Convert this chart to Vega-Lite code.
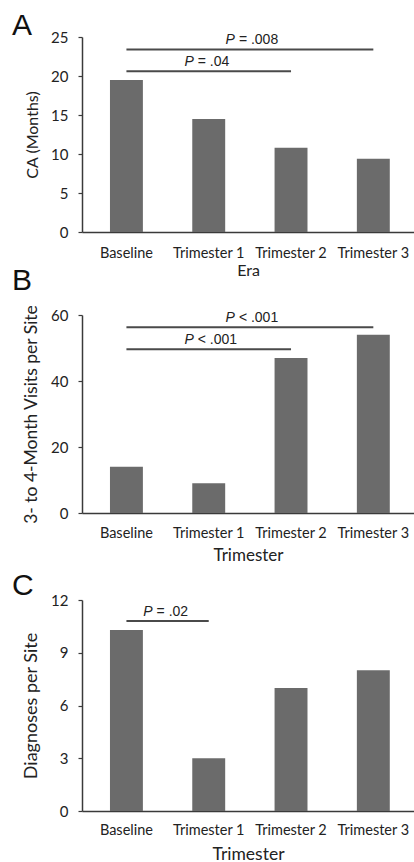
{
  "$schema": "https://vega.github.io/schema/vega-lite/v6.json",
  "padding": {"left": 12, "top": 11, "right": 0, "bottom": 0},
  "spacing": 7,
  "background": "white",
  "config": {
    "view": {"stroke": null},
    "font": "Lato",
    "axis": {"domainColor": "#3a3a3a", "domainWidth": 1.5, "labelColor": "#222", "titleColor": "#222", "labelFont": "Lato", "titleFont": "Lato", "titleFontWeight": "normal", "grid": false, "labelOverlap": false},
    "axisX": {"ticks": false, "tickSize": 0, "labelAngle": 0, "labelFontSize": 14.5, "labelPadding": 14},
    "axisY": {"tickSize": 4, "tickColor": "#3a3a3a", "tickWidth": 1.2, "labelFontSize": 15, "labelPadding": 10, "titlePadding": 10},
    "title": {"font": "Liberation Sans", "fontSize": 30, "fontWeight": "normal", "anchor": "start", "frame": "group", "dx": -70, "color": "#111", "baseline": "alphabetic"},
    "bar": {"color": "#6b6b6b"},
    "scale": {"bandPaddingInner": 0.6, "bandPaddingOuter": 0.317}
  },
  "datasets": {
    "ca": [
      {"era": "Baseline", "months": 19.5},
      {"era": "Trimester 1", "months": 14.5},
      {"era": "Trimester 2", "months": 10.8},
      {"era": "Trimester 3", "months": 9.4}
    ],
    "visits": [
      {"trimester": "Baseline", "visits": 14},
      {"trimester": "Trimester 1", "visits": 9},
      {"trimester": "Trimester 2", "visits": 47},
      {"trimester": "Trimester 3", "visits": 54}
    ],
    "diagnoses": [
      {"trimester": "Baseline", "diagnoses": 10.3},
      {"trimester": "Trimester 1", "diagnoses": 3},
      {"trimester": "Trimester 2", "diagnoses": 7},
      {"trimester": "Trimester 3", "diagnoses": 8}
    ],
    "brackets": [
      {"panel": "A", "from": "Baseline", "to": "Trimester 3", "y": 23.4, "rest": "= .008", "mid": "Trimester 1", "between": true},
      {"panel": "A", "from": "Baseline", "to": "Trimester 2", "y": 20.6, "rest": "= .04", "mid": "Trimester 1", "between": false},
      {"panel": "B", "from": "Baseline", "to": "Trimester 3", "y": 56.3, "rest": "< .001", "mid": "Trimester 1", "between": true},
      {"panel": "B", "from": "Baseline", "to": "Trimester 2", "y": 49.6, "rest": "< .001", "mid": "Trimester 1", "between": false},
      {"panel": "C", "from": "Baseline", "to": "Trimester 1", "y": 10.8, "rest": "= .02", "mid": "Baseline", "between": true}
    ]
  },
  "vconcat": [
    {
      "spacing": -13,
      "vconcat": [
        {
          "title": {"text": "A", "offset": -11},
          "width": 332,
          "height": 195,
          "layer": [
            {
              "data": {"name": "ca"},
              "mark": "bar",
              "encoding": {
                "x": {"field": "era", "type": "nominal", "scale": {"domain": ["Baseline", "Trimester 1", "Trimester 2", "Trimester 3"], "align": 0.536}, "axis": {"title": "Era", "titleFontSize": 16, "titlePadding": 3}},
                "y": {"field": "months", "type": "quantitative", "scale": {"domain": [0, 25], "nice": false}, "axis": {"title": "CA (Months)", "titleFontSize": 16, "values": [0, 5, 10, 15, 20, 25], "tickCount": 6, "labelOverlap": false, "labelSeparation": -30}}
              }
            },
            {
              "data": {"name": "brackets"},
              "transform": [{"filter": "datum.panel === 'A'"}],
              "mark": {"type": "rule", "color": "#4a4a4a", "strokeWidth": 2},
              "encoding": {"x": {"field": "from", "type": "nominal"}, "x2": {"field": "to"}, "y": {"field": "y", "type": "quantitative"}}
            },
            {
              "data": {"name": "brackets"},
              "transform": [{"filter": "datum.panel === 'A' && !datum.between"}],
              "mark": {"type": "text", "font": "Liberation Sans", "fontStyle": "italic", "fontSize": 14, "align": "right", "baseline": "alphabetic", "dx": -15, "dy": -5, "color": "#222"},
              "encoding": {"x": {"field": "mid", "type": "nominal", "bandPosition": 0.5}, "y": {"field": "y", "type": "quantitative"}, "text": {"value": "P"}}
            },
            {
              "data": {"name": "brackets"},
              "transform": [{"filter": "datum.panel === 'A' && !datum.between"}],
              "mark": {"type": "text", "font": "Liberation Sans", "fontSize": 14, "align": "left", "baseline": "alphabetic", "dx": -11, "dy": -5, "color": "#222"},
              "encoding": {"x": {"field": "mid", "type": "nominal", "bandPosition": 0.5}, "y": {"field": "y", "type": "quantitative"}, "text": {"field": "rest"}}
            },
            {
              "data": {"name": "brackets"},
              "transform": [{"filter": "datum.panel === 'A' && datum.between"}],
              "mark": {"type": "text", "font": "Liberation Sans", "fontStyle": "italic", "fontSize": 14, "align": "right", "baseline": "alphabetic", "dx": -15, "dy": -5, "color": "#222"},
              "encoding": {"x": {"field": "mid", "type": "nominal", "bandPosition": 1.75}, "y": {"field": "y", "type": "quantitative"}, "text": {"value": "P"}}
            },
            {
              "data": {"name": "brackets"},
              "transform": [{"filter": "datum.panel === 'A' && datum.between"}],
              "mark": {"type": "text", "font": "Liberation Sans", "fontSize": 14, "align": "left", "baseline": "alphabetic", "dx": -11, "dy": -5, "color": "#222"},
              "encoding": {"x": {"field": "mid", "type": "nominal", "bandPosition": 1.75}, "y": {"field": "y", "type": "quantitative"}, "text": {"field": "rest"}}
            }
          ]
        },
        {
          "title": {"text": "B", "offset": 8},
          "width": 332,
          "height": 198,
          "layer": [
            {
              "data": {"name": "visits"},
              "mark": "bar",
              "encoding": {
                "x": {"field": "trimester", "type": "nominal", "scale": {"domain": ["Baseline", "Trimester 1", "Trimester 2", "Trimester 3"], "align": 0.536}, "axis": {"title": "Trimester", "titleFontSize": 17, "labelPadding": 13, "titlePadding": 8}},
                "y": {"field": "visits", "type": "quantitative", "scale": {"domain": [0, 60]}, "axis": {"title": "3- to 4-Month Visits per Site", "titleFontSize": 17.5, "values": [0, 20, 40, 60]}}
              }
            },
            {
              "data": {"name": "brackets"},
              "transform": [{"filter": "datum.panel === 'B'"}],
              "mark": {"type": "rule", "color": "#4a4a4a", "strokeWidth": 2},
              "encoding": {"x": {"field": "from", "type": "nominal"}, "x2": {"field": "to"}, "y": {"field": "y", "type": "quantitative"}}
            },
            {
              "data": {"name": "brackets"},
              "transform": [{"filter": "datum.panel === 'B' && !datum.between"}],
              "mark": {"type": "text", "font": "Liberation Sans", "fontStyle": "italic", "fontSize": 14, "align": "right", "baseline": "alphabetic", "dx": -15, "dy": -5, "color": "#222"},
              "encoding": {"x": {"field": "mid", "type": "nominal", "bandPosition": 0.5}, "y": {"field": "y", "type": "quantitative"}, "text": {"value": "P"}}
            },
            {
              "data": {"name": "brackets"},
              "transform": [{"filter": "datum.panel === 'B' && !datum.between"}],
              "mark": {"type": "text", "font": "Liberation Sans", "fontSize": 14, "align": "left", "baseline": "alphabetic", "dx": -11, "dy": -5, "color": "#222"},
              "encoding": {"x": {"field": "mid", "type": "nominal", "bandPosition": 0.5}, "y": {"field": "y", "type": "quantitative"}, "text": {"field": "rest"}}
            },
            {
              "data": {"name": "brackets"},
              "transform": [{"filter": "datum.panel === 'B' && datum.between"}],
              "mark": {"type": "text", "font": "Liberation Sans", "fontStyle": "italic", "fontSize": 14, "align": "right", "baseline": "alphabetic", "dx": -15, "dy": -5, "color": "#222"},
              "encoding": {"x": {"field": "mid", "type": "nominal", "bandPosition": 1.75}, "y": {"field": "y", "type": "quantitative"}, "text": {"value": "P"}}
            },
            {
              "data": {"name": "brackets"},
              "transform": [{"filter": "datum.panel === 'B' && datum.between"}],
              "mark": {"type": "text", "font": "Liberation Sans", "fontSize": 14, "align": "left", "baseline": "alphabetic", "dx": -11, "dy": -5, "color": "#222"},
              "encoding": {"x": {"field": "mid", "type": "nominal", "bandPosition": 1.75}, "y": {"field": "y", "type": "quantitative"}, "text": {"field": "rest"}}
            }
          ]
        }
      ]
    },
    {
      "title": {"text": "C", "offset": -8},
      "width": 332,
      "height": 211,
      "layer": [
        {
          "data": {"name": "diagnoses"},
          "mark": "bar",
          "encoding": {
            "x": {"field": "trimester", "type": "nominal", "scale": {"domain": ["Baseline", "Trimester 1", "Trimester 2", "Trimester 3"], "align": 0.536}, "axis": {"title": "Trimester", "titleFontSize": 17.5, "labelPadding": 12, "titlePadding": 9}},
            "y": {"field": "diagnoses", "type": "quantitative", "scale": {"domain": [0, 12]}, "axis": {"title": "Diagnoses per Site", "titleFontSize": 18, "values": [0, 3, 6, 9, 12]}}
          }
        },
        {
          "data": {"name": "brackets"},
          "transform": [{"filter": "datum.panel === 'C'"}],
          "mark": {"type": "rule", "color": "#4a4a4a", "strokeWidth": 2},
          "encoding": {"x": {"field": "from", "type": "nominal"}, "x2": {"field": "to"}, "y": {"field": "y", "type": "quantitative"}}
        },
        {
          "data": {"name": "brackets"},
          "transform": [{"filter": "datum.panel === 'C' && datum.between"}],
          "mark": {"type": "text", "font": "Liberation Sans", "fontStyle": "italic", "fontSize": 14, "align": "right", "baseline": "alphabetic", "dx": -15, "dy": -5, "color": "#222"},
          "encoding": {"x": {"field": "mid", "type": "nominal", "bandPosition": 1.75}, "y": {"field": "y", "type": "quantitative"}, "text": {"value": "P"}}
        },
        {
          "data": {"name": "brackets"},
          "transform": [{"filter": "datum.panel === 'C' && datum.between"}],
          "mark": {"type": "text", "font": "Liberation Sans", "fontSize": 14, "align": "left", "baseline": "alphabetic", "dx": -11, "dy": -5, "color": "#222"},
          "encoding": {"x": {"field": "mid", "type": "nominal", "bandPosition": 1.75}, "y": {"field": "y", "type": "quantitative"}, "text": {"field": "rest"}}
        }
      ]
    }
  ]
}
